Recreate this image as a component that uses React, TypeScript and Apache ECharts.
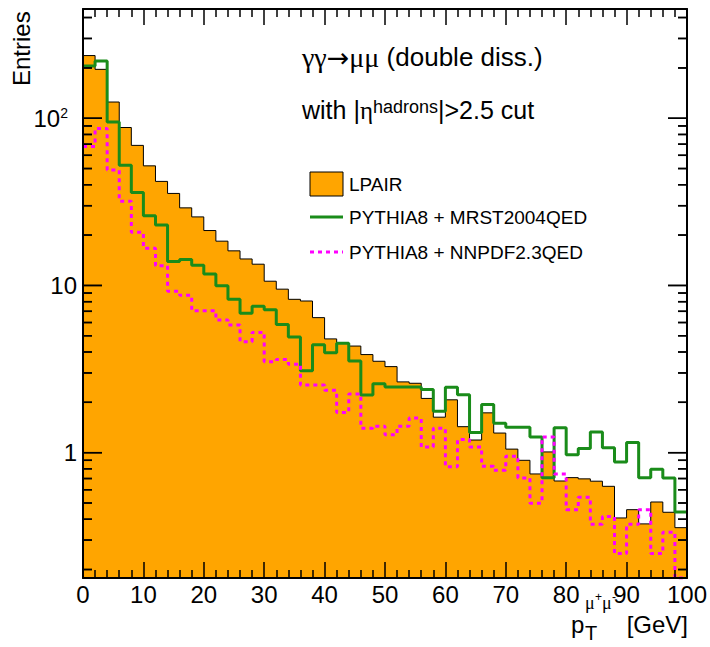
import React, { useEffect, useRef } from "react";
import * as echarts from "echarts";

const binWidth = 2;
const lpair = [237, 196, 125, 88, 68.8, 51.9, 41.9, 35.5, 29.1, 25.7, 21.3, 18.4, 16.1, 14.4, 13.4, 10.6, 9.5, 8.26, 8.07, 6.42, 4.79, 4.55, 4.34, 3.86, 3.52, 3.27, 2.65, 2.6, 2.11, 1.63, 2.07, 1.43, 1.19, 1.73, 1.31, 1.05, 0.9, 0.746, 1.01, 0.677, 0.709, 0.697, 0.675, 0.629, 0.407, 0.456, 0.375, 0.507, 0.44, 0.356];
const mrst = [205, 220, 95.1, 52.4, 36, 26.1, 23, 13.9, 14.3, 13.2, 11.7, 9.96, 8.26, 6.81, 7.5, 7.16, 5.85, 4.92, 3.09, 4.42, 3.96, 4.51, 3.53, 2.21, 2.58, 2.47, 2.47, 2.47, 2.39, 1.77, 2.46, 2.22, 1.32, 1.94, 1.5, 1.42, 1.42, 1.24, 0.709, 1.41, 0.973, 1.06, 1.33, 1.07, 0.88, 1.15, 0.709, 0.796, 0.706, 0.442];
const nnpdf = [67.8, 86.9, 49, 31.9, 20.8, 16.7, 13.1, 9.22, 8.73, 7.06, 7.06, 6.21, 5.8, 4.61, 5.24, 3.5, 3.61, 3.38, 2.54, 2.54, 2.36, 1.74, 2.24, 1.4, 1.44, 1.28, 1.44, 1.61, 1.08, 1.4, 0.825, 1.2, 1.08, 0.83, 0.785, 0.951, 0.706, 0.498, 1.24, 0.746, 0.456, 0.541, 0.373, 0.415, 0.249, 0.373, 0.456, 0.249, 0.334, 0.178];
const yMin = 0.178;
const yMax = 450;
const xMin = 0;
const xMax = 100;
const decades = [0.1, 1, 10, 100];
const legendNames = ["LPAIR", "PYTHIA8 + MRST2004QED", "PYTHIA8 + NNPDF2.3QED"];

const FONT = "Liberation Sans";
const GREEK = "Liberation Serif";
const GRID_W = 605;

function stepData(vals: number[]) {
  const pts: number[][] = vals.map((v, i) => [i * binWidth, v]);
  pts.push([vals.length * binWidth, vals[vals.length - 1]]);
  return pts;
}

function yTickValues() {
  const out: { v: number; major: boolean }[] = [];
  decades.forEach((d) => {
    for (let k = 1; k <= 9; k++) {
      const v = d * k;
      if (v >= yMin && v <= yMax) out.push({ v, major: k === 1 });
    }
  });
  return out;
}

function tickLineData() {
  const perPx = (xMax - xMin) / GRID_W;
  const pts: any[] = [];
  yTickValues().forEach((t) => {
    const len = (t.major ? 19 : 9) * perPx;
    pts.push([xMin, t.v], [xMin + len, t.v], [xMin + len, "-"]);
    pts.push([xMax - len, t.v], [xMax, t.v], [xMax, "-"]);
  });
  return pts;
}

export default function App() {
  const ref = useRef<HTMLDivElement>(null);
  useEffect(() => {
    if (!ref.current) return;
    const chart = echarts.init(ref.current, null, { renderer: "svg" });
    const axisLine = { show: true, onZero: false, lineStyle: { color: "#000", width: 2 } };
    const xCommon = {
      type: "value",
      min: xMin,
      max: xMax,
      interval: 10,
      z: 10,
      axisLine,
      axisTick: { show: true, inside: true, length: 16, lineStyle: { color: "#000", width: 1.5 } },
      minorTick: { show: true, splitNumber: 5, length: 8, lineStyle: { color: "#000", width: 1.5 } },
      splitLine: { show: false },
    };
    const yCommon = {
      type: "log",
      logBase: 10,
      min: yMin,
      max: yMax,
      z: 10,
      axisLine,
      axisTick: { show: false },
      minorTick: { show: false },
      splitLine: { show: false },
    };
    const isPow = (v: number) => Math.abs(Math.log10(v) - Math.round(Math.log10(v))) < 1e-6;
    const txt = (text: string, x: number, y: number, size: number, family = FONT, align = "left") => ({
      type: "text",
      x,
      y,
      z: 20,
      style: { text, fontSize: size, fontFamily: family, fill: "#000", align, verticalAlign: "middle" },
    });
    const baseGraphic: any[] = [
      {
        type: "text",
        x: 21,
        y: 86,
        rotation: Math.PI / 2,
        style: { text: "Entries", fontSize: 24, fontFamily: FONT, fill: "#000", align: "left", verticalAlign: "middle" },
      },
      {
        type: "text",
        x: 302,
        y: 57,
        style: {
          text: "{g|γγ}{a|→}{g|μμ}{t| (double diss.)}",
          verticalAlign: "middle",
          align: "left",
          rich: {
            g: { fontSize: 28, fontFamily: GREEK, fill: "#000" },
            a: { fontSize: 27, fontFamily: "DejaVu Sans", fill: "#000" },
            t: { fontSize: 26, fontFamily: FONT, fill: "#000" },
          },
        },
      },
      {
        type: "text",
        x: 302,
        y: 110,
        style: {
          text: "{t|with |}{g|η}{s|hadrons}{t||>2.5 cut}",
          verticalAlign: "middle",
          align: "left",
          rich: {
            g: { fontSize: 25, fontFamily: GREEK, fill: "#000" },
            t: { fontSize: 25, fontFamily: FONT, fill: "#000" },
            s: { fontSize: 18, fontFamily: FONT, fill: "#000", verticalAlign: "top" },
          },
        },
      },
      {
        type: "rect",
        shape: { x: 310, y: 172, width: 33, height: 24 },
        style: { fill: "#ffa500", stroke: "#000", lineWidth: 1 },
      },
      {
        type: "line",
        shape: { x1: 310, y1: 217, x2: 343, y2: 217 },
        style: { stroke: "#1a8c1a", lineWidth: 3 },
      },
      {
        type: "line",
        shape: { x1: 310, y1: 252, x2: 343, y2: 252 },
        style: { stroke: "#ff00ff", lineWidth: 3, lineDash: [4, 4] },
      },
      txt(legendNames[0], 349, 184, 19),
      txt(legendNames[1], 349, 217, 19),
      txt(legendNames[2], 349, 252, 19),
      txt("p", 571, 624, 24),
      txt("T", 585, 633, 20),
      txt("μ", 585, 603, 18, GREEK),
      txt("+", 595, 597, 12),
      txt("μ", 602, 603, 18, GREEK),
      txt("-", 612, 597, 12),
      txt("[GeV]", 688, 624, 24, FONT, "right"),
    ];
    const option = {
      animation: false,
      textStyle: { fontFamily: FONT },
      grid: { left: 83, right: 22, top: 9, bottom: 69 },
      xAxis: [
        {
          ...xCommon,
          position: "bottom",
          axisLabel: { fontSize: 24, color: "#000", fontFamily: FONT, margin: 4 },
        },
        { ...xCommon, position: "top", axisLabel: { show: false } },
      ],
      yAxis: [
        {
          ...yCommon,
          position: "left",
          axisLabel: {
            fontSize: 24,
            color: "#000",
            fontFamily: FONT,
            margin: 6,
            showMinLabel: false,
            showMaxLabel: false,
            formatter: (v: number) => {
              if (!isPow(v)) return "";
              const e = Math.round(Math.log10(v));
              if (e === 2) return "{b|10}{s|2}";
              return "{b|" + String(Math.round(v)) + "}";
            },
            rich: {
              b: { fontSize: 24, color: "#000", fontFamily: FONT },
              s: { fontSize: 14, color: "#000", fontFamily: FONT, verticalAlign: "top", padding: [0, 9, 0, 0] },
            },
          },
        },
        { ...yCommon, position: "right", axisLabel: { show: false } },
      ],
      series: [
        {
          type: "line",
          name: "yticks",
          data: tickLineData(),
          symbol: "none",
          lineStyle: { color: "#000", width: 1.5 },
          z: 20,
        },
        {
          type: "line",
          name: legendNames[0],
          step: "end",
          data: stepData(lpair),
          symbol: "none",
          lineStyle: { color: "#000", width: 1 },
          areaStyle: { color: "#ffa500", opacity: 1, origin: "start" },
          z: 2,
        },
        {
          type: "line",
          name: legendNames[1],
          step: "end",
          data: stepData(mrst),
          symbol: "none",
          lineStyle: { color: "#1a8c1a", width: 3 },
          z: 3,
        },
        {
          type: "line",
          name: legendNames[2],
          step: "end",
          data: stepData(nnpdf),
          symbol: "none",
          lineStyle: { color: "#ff00ff", width: 3, type: [4, 4] },
          z: 4,
        },
      ],
      graphic: baseGraphic,
    };
    try {
      chart.setOption(option as any);
    } catch (e) {
      // keep going so the tick marks below are still drawn
    }
    const tickEls: any[] = [];
    try {
      yTickValues().forEach((t) => {
        const len = t.major ? 19 : 9;
        const pL = chart.convertToPixel({ xAxisIndex: 0, yAxisIndex: 0 } as any, [xMin, t.v]) as any;
        const pR = chart.convertToPixel({ xAxisIndex: 0, yAxisIndex: 0 } as any, [xMax, t.v]) as any;
        if (!pL || !pR) return;
        tickEls.push({
          type: "line",
          z: 30,
          shape: { x1: pL[0], y1: pL[1], x2: pL[0] + len, y2: pL[1] },
          style: { stroke: "#000", lineWidth: 1.5 },
        });
        tickEls.push({
          type: "line",
          z: 30,
          shape: { x1: pR[0] - len, y1: pR[1], x2: pR[0], y2: pR[1] },
          style: { stroke: "#000", lineWidth: 1.5 },
        });
      });
      chart.setOption({ graphic: baseGraphic.concat(tickEls) } as any);
    } catch (e) {
      // ignore
    }
    return () => chart.dispose();
  }, []);
  return (
    <div
      ref={ref}
      style={{ position: "fixed", left: 0, top: 0, width: 710, height: 647, background: "#fff" }}
    />
  );
}
